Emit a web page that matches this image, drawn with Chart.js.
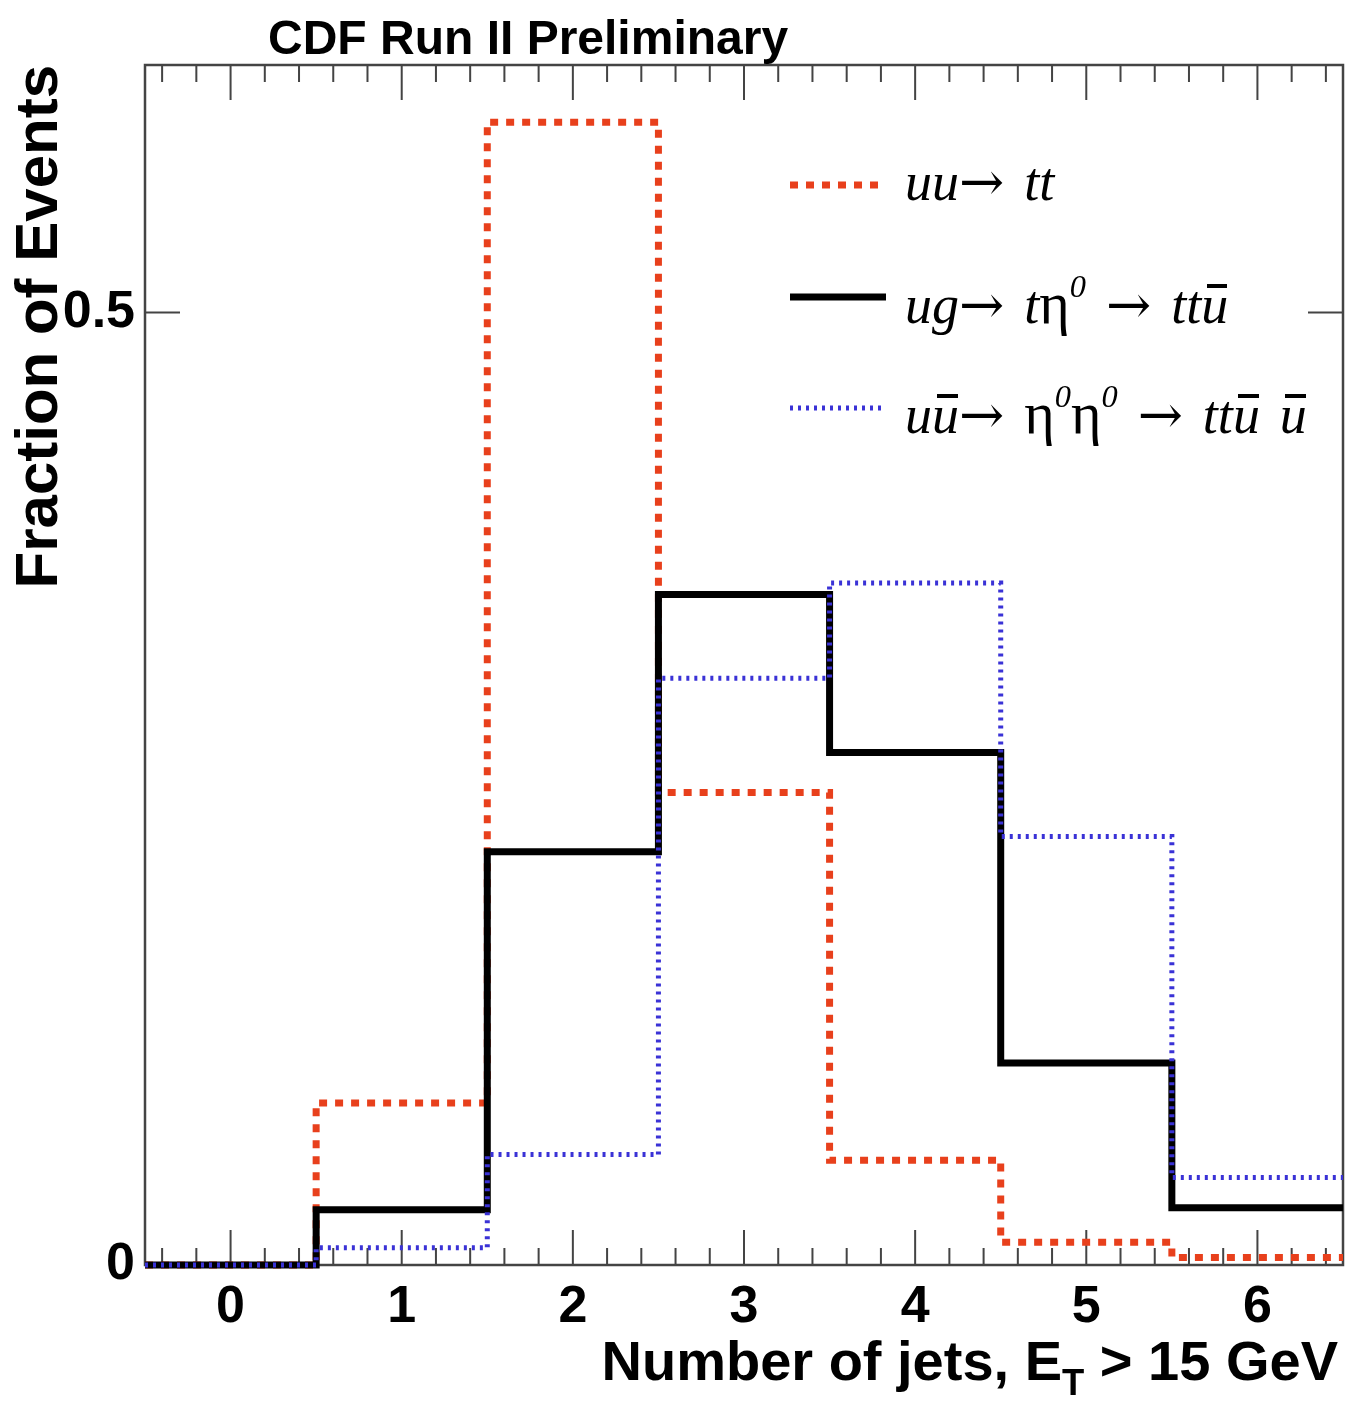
<!DOCTYPE html>
<html>
<head>
<meta charset="utf-8">
<script src="https://cdn.jsdelivr.net/npm/chart.js@4.4.1/dist/chart.umd.min.js"></script>
<style>
    html, body { margin: 0; padding: 0; background: #fff; }
    #wrap { position: relative; width: 1346px; height: 1401px; }
    #chart { position: absolute; left: 0; top: 0; }
    .sans { font-family: "Liberation Sans", Arial, sans-serif; font-weight: bold; color: #000; position: absolute; line-height: 1; white-space: nowrap; }
    .leg { font-family: "Liberation Serif", "Times New Roman", serif; font-style: italic; font-size: 54px; line-height: 1; position: absolute; left: 905px; white-space: nowrap; color: #000; word-spacing: 0.12em; }
    .leg .up { font-style: normal; font-size: 1.08em; }
    .leg .arr { font-family: "DejaVu Serif", serif; font-style: normal; font-size: 1em; }
    .leg sup { font-size: 0.6em; position: relative; top: -0.15em; vertical-align: top; line-height: 1; }
    .bar { position: relative; }
    .bar::after { content: ""; position: absolute; left: 0.1em; right: 0.02em; top: 0.16em; border-top: 4px solid #000; }
    .sample { position: absolute; left: 790px; width: 96px; height: 14px; }
</style>
</head>
<body>
<div id="wrap">
    <canvas id="chart" width="1346" height="1401"></canvas>
    <div class="sans" style="left:268px; top:14px; font-size:48px;">CDF Run II Preliminary</div>
    <div class="sans" style="right:8px; top:1333px; font-size:56px;">Number of jets, E<span style="font-size:0.65em; position:relative; top:0.4em;">T</span> &gt; 15 GeV</div>

    <svg class="sample" style="top:178px;"><line x1="0" y1="7" x2="96" y2="7" stroke="#e8401c" stroke-width="7" stroke-dasharray="8 8"/></svg>
    <svg class="sample" style="top:290px;"><line x1="0" y1="7" x2="96" y2="7" stroke="#000" stroke-width="7"/></svg>
    <svg class="sample" style="top:401px;"><line x1="0" y1="7" x2="96" y2="7" stroke="#3a32d6" stroke-width="5" stroke-dasharray="3 5"/></svg>

    <div class="leg" style="top:155px;">uu<span class="arr">→</span> tt</div>
    <div class="leg" style="top:275px;">ug<span class="arr">→</span> t<span class="up">η</span><sup>0</sup> <span class="arr">→</span> tt<span class="bar">u</span></div>
    <div class="leg" style="top:385px;">u<span class="bar">u</span><span class="arr">→</span> <span class="up">η</span><sup>0</sup><span class="up">η</span><sup>0</sup> <span class="arr">→</span> tt<span class="bar">u</span> <span class="bar">u</span></div>
</div>
<script>
// bin centres (number of jets) and fraction of events per bin
const nJets = [0, 1, 2, 3, 4, 5, 6];
const xTicks = [0, 1, 2, 3, 4, 5, 6];
const yTicks = [0, 0.5];
const uuToTT = [0, 0.085, 0.600, 0.248, 0.055, 0.012, 0.004];
const ugToTEta = [0, 0.029, 0.217, 0.352, 0.269, 0.106, 0.030];
const uubarToEtaEta = [0, 0.009, 0.058, 0.308, 0.358, 0.225, 0.046];

// histogram outline: one point per left bin edge plus the last right edge
function histPoints(values) {
    const pts = nJets.map((n, i) => ({ x: n - 0.5, y: values[i] }));
    pts.push({ x: nJets[nJets.length - 1] + 0.5, y: values[values.length - 1] });
    return pts;
}

// frame and inward ticks like a ROOT canvas
const framePlugin = {
    id: "frame",
    beforeDatasetsDraw(chart) {
        const { ctx, chartArea: a, scales } = chart;
        const xs = scales.x, ys = scales.y;
        ctx.save();
        ctx.strokeStyle = "#444";
        ctx.lineWidth = 2.5;
        ctx.strokeRect(a.left, a.top, a.right - a.left, a.bottom - a.top);
        ctx.lineWidth = 2;
        for (let k = 0; k <= 34; k++) {
            const v = -0.4 + k * 0.2;
            if (v > xs.max) break;
            const px = xs.getPixelForValue(v);
            const major = Math.abs(v - Math.round(v)) < 1e-6;
            const len = major ? 35 : 17;
            ctx.beginPath();
            ctx.moveTo(px, a.bottom); ctx.lineTo(px, a.bottom - len);
            ctx.moveTo(px, a.top); ctx.lineTo(px, a.top + len);
            ctx.stroke();
        }
        yTicks.forEach(v => {
            const py = ys.getPixelForValue(v);
            ctx.beginPath();
            ctx.moveTo(a.left, py); ctx.lineTo(a.left + 35, py);
            ctx.moveTo(a.right, py); ctx.lineTo(a.right - 35, py);
            ctx.stroke();
        });
        ctx.restore();
    }
};

const ctx = document.getElementById("chart").getContext("2d");
new Chart(ctx, {
    type: "line",
    data: {
        datasets: [
            {
                label: "uu→ tt",
                data: histPoints(uuToTT),
                borderColor: "#e8401c",
                borderWidth: 7,
                borderDash: [8, 8],
                stepped: "before",
                pointRadius: 0,
                fill: false,
                clip: 10,
                order: 3
            },
            {
                label: "ug→ tη0 → ttū",
                data: histPoints(ugToTEta),
                borderColor: "#000",
                borderWidth: 7,
                stepped: "before",
                pointRadius: 0,
                fill: false,
                clip: 10,
                order: 2
            },
            {
                label: "uū→ η0η0 → ttū ū",
                data: histPoints(uubarToEtaEta),
                borderColor: "#3a32d6",
                borderWidth: 5,
                borderDash: [3, 5],
                stepped: "before",
                pointRadius: 0,
                fill: false,
                clip: 10,
                order: 1
            }
        ]
    },
    options: {
        responsive: false,
        animation: false,
        devicePixelRatio: 1,
        layout: { padding: { top: 65, right: 3, left: 0, bottom: 0 } },
        plugins: {
            legend: { display: false },
            tooltip: { enabled: false },
            title: { display: false }
        },
        scales: {
            x: {
                type: "linear",
                min: -0.5,
                max: 6.5,
                grid: { display: false, drawTicks: false },
                border: { display: false },
                afterBuildTicks(scale) { scale.ticks = xTicks.map(v => ({ value: v })); },
                afterFit(scale) { scale.height = 136; },
                ticks: {
                    padding: 11,
                    maxRotation: 0,
                    color: "#000",
                    font: { family: "Liberation Sans", weight: "bold", size: 52 },
                    callback: v => String(v)
                }
            },
            y: {
                type: "linear",
                min: 0,
                max: 0.63,
                grid: { display: false, drawTicks: false },
                border: { display: false },
                afterBuildTicks(scale) { scale.ticks = yTicks.map(v => ({ value: v })); },
                afterFit(scale) { scale.width = 145; },
                ticks: {
                    padding: 10,
                    color: "#000",
                    font: { family: "Liberation Sans", weight: "bold", size: 52 },
                    callback: v => String(v)
                },
                title: {
                    display: true,
                    text: "Fraction of Events",
                    align: "end",
                    color: "#000",
                    font: { family: "Liberation Sans", weight: "bold", size: 60 },
                    padding: { top: 4, bottom: 0 }
                }
            }
        }
    },
    plugins: [framePlugin]
});
</script>
</body>
</html>
